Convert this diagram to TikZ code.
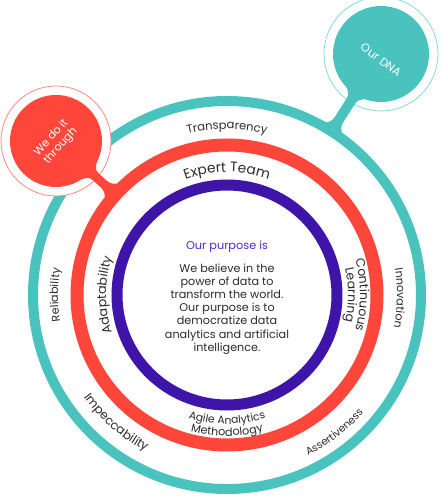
\documentclass[tikz,border=0pt]{standalone}
\usepackage{fontspec}
\setmainfont{Poppins}
\usetikzlibrary{decorations.text,calc}
\definecolor{tealc}{HTML}{4AC3BF}
\definecolor{redc}{HTML}{FF463B}
\definecolor{purpc}{HTML}{3E15A8}
\definecolor{purptxt}{HTML}{5528C8}
\definecolor{txtc}{HTML}{2B2B2B}
\definecolor{redhalo}{HTML}{FF8A82}
\definecolor{tealhalo}{HTML}{86D9D6}
\newcommand\arctextcw[4]{%
  \path[decorate,decoration={text along path,text align=center,text color=txtc,
    text={|\fontsize{#3}{#3}\selectfont|#4}}]
    (#1+40:#2) arc[start angle=#1+40,end angle=#1-40,radius=#2];}
\newcommand\arctextccw[4]{%
  \path[decorate,decoration={text along path,text align=center,text color=txtc,
    text={|\fontsize{#3}{#3}\selectfont|#4}}]
    (#1-40:#2) arc[start angle=#1-40,end angle=#1+40,radius=#2];}
\begin{document}
\begin{tikzpicture}[x=1pt,y=1pt,
  halo/.style={draw=#1,line width=0.8,fill=white},
  bubbletext/.style={text=white,font=\fontsize{11}{12.5}\selectfont,align=center}]
\useasboundingbox (-227,-205) rectangle (216,295);
\coordinate (ctr) at (0,0);
\coordinate (rb) at (-171,154);
\coordinate (tb) at (154,241);
% rings
\draw[tealc,line width=10] (ctr) circle[radius=194];
\draw[redc,line width=13] (ctr) circle[radius=150];
\draw[purpc,line width=11] (ctr) circle[radius=110];
% red bubble
\draw[halo=redhalo] (rb) circle[radius=55];
\begin{scope}[shift={(rb)},rotate=-42]
\fill[redc] (30,11.5) -- (44.5,11.5) .. controls (48,5) and (50,4.5) .. (54,4.5) -- (64,4.5)
  .. controls (69,4.5) and (72,6) .. (77,13) -- (77,-13)
  .. controls (72,-6) and (69,-4.5) .. (64,-4.5) -- (54,-4.5)
  .. controls (50,-4.5) and (48,-5) .. (44.5,-11.5) -- (30,-11.5) -- cycle;
\end{scope}
\fill[redc] (rb) circle[radius=46];
\node[bubbletext,rotate=48] (rbt) at ($(rb)+(0,-1)$) {We do it\\through};
% teal bubble
\draw[halo=tealhalo] (tb) circle[radius=57];
\begin{scope}[shift={(tb)},rotate=-122.6]
\fill[tealc] (30,12) -- (46,12) .. controls (50,6) and (52,5) .. (57,5) -- (78,5)
  .. controls (83,5) and (86,7) .. (91,14) -- (91,-14)
  .. controls (86,-7) and (83,-5) .. (78,-5) -- (57,-5)
  .. controls (52,-5) and (50,-6) .. (46,-12) -- (30,-12) -- cycle;
\end{scope}
\fill[tealc] (tb) circle[radius=48];
\node[bubbletext,rotate=-37,font=\fontsize{11.4}{13}\selectfont] (tbt) at ($(tb)+(0,-6)$) {Our DNA};
% centre text
\node[text=purptxt,font=\fontsize{11.3}{13}\selectfont] (title) at (0,48) {Our purpose is};
\node[text=txtc,align=center,font=\fontsize{11.2}{13.2}\selectfont] (body) at (0,-14)
  {We believe in the\\power of data to\\transform the world.\\Our purpose is to\\democratize data\\analytics and artificial\\intelligence.};
% curved labels
\arctextcw{90}{166}{11.5}{Transparency}
\arctextcw{90}{123}{13.8}{Expert Team}
\arctextcw{180}{121}{12.6}{Adaptability}
\arctextcw{0}{133}{12.4}{Continuous}
\arctextcw{0}{121}{12.4}{Learning}
\arctextcw{180}{169}{11.2}{Reliability}
\arctextcw{-1}{170}{11.2}{Innovation}
\arctextccw{270}{129}{10.8}{Agile Analytics}
\arctextccw{270}{141}{11.2}{Methodology}
\arctextccw{229}{176}{12.2}{Impeccability}
\arctextccw{308}{180}{10.4}{Assertiveness}
\end{tikzpicture}
\end{document}
